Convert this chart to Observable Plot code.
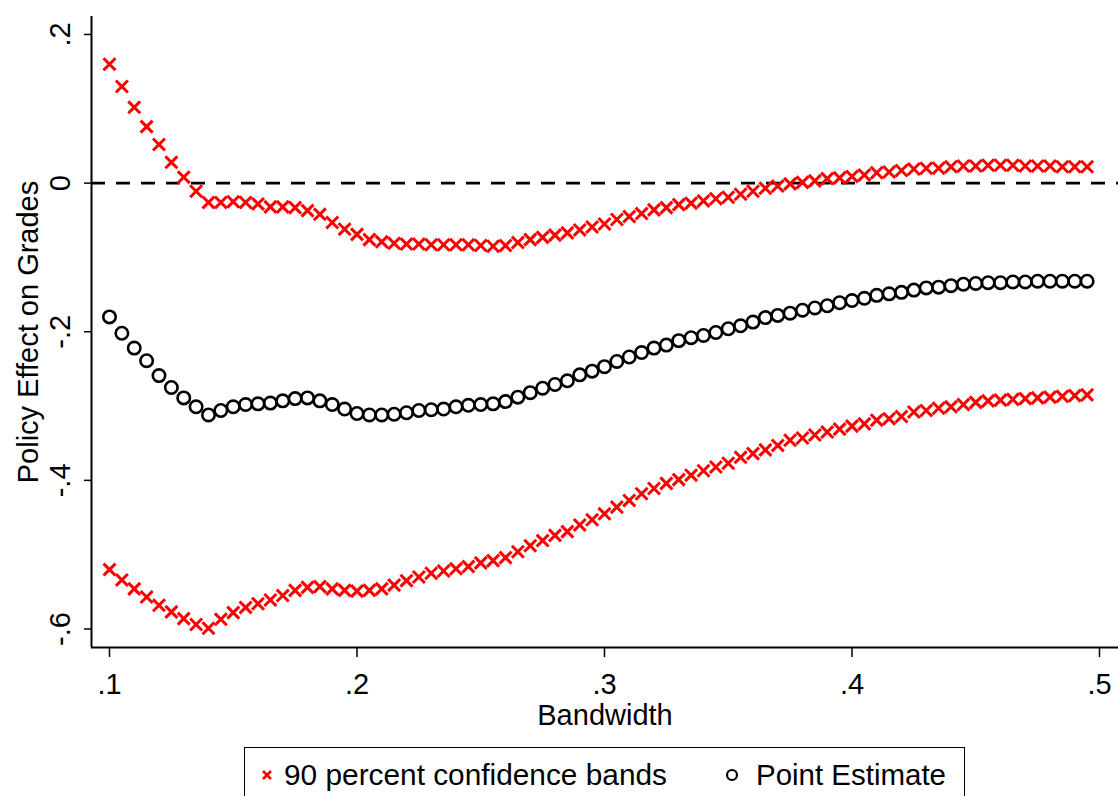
<!DOCTYPE html>
<html><head><meta charset="utf-8">
<script src="https://cdn.jsdelivr.net/npm/d3@7"></script>
<script src="https://cdn.jsdelivr.net/npm/@observablehq/plot@0.6"></script>
<style>
html,body{margin:0;padding:0;background:#fff;overflow:hidden;}
#wrap{position:relative;width:1118px;height:796px;font-family:"Liberation Sans",Arial,sans-serif;}
#chart{position:absolute;left:0;top:0;}
#legend{position:absolute;left:244px;top:747px;width:721px;height:80px;border:1.5px solid #000;box-sizing:border-box;background:#fff;}
#legend svg{position:absolute;left:0;top:0;}
</style></head>
<body><div id="wrap"><div id="chart"></div><div id="legend"></div></div>
<script>
const bandwidth = [0.100,0.105,0.110,0.115,0.120,0.125,0.130,0.135,0.140,0.145,
0.150,0.155,0.160,0.165,0.170,0.175,0.180,0.185,0.190,0.195,
0.200,0.205,0.210,0.215,0.220,0.225,0.230,0.235,0.240,0.245,
0.250,0.255,0.260,0.265,0.270,0.275,0.280,0.285,0.290,0.295,
0.300,0.305,0.310,0.315,0.320,0.325,0.330,0.335,0.340,0.345,
0.350,0.355,0.360,0.365,0.370,0.375,0.380,0.385,0.390,0.395,
0.400,0.405,0.410,0.415,0.420,0.425,0.430,0.435,0.440,0.445,
0.450,0.455,0.460,0.465,0.470,0.475,0.480,0.485,0.490,0.495];
const upperBand = [0.160,0.130,0.102,0.076,0.052,0.028,0.008,-0.011,-0.026,-0.026,
-0.025,-0.026,-0.028,-0.032,-0.032,-0.033,-0.037,-0.042,-0.053,-0.062,
-0.069,-0.076,-0.079,-0.081,-0.082,-0.082,-0.083,-0.083,-0.083,-0.083,
-0.084,-0.085,-0.084,-0.080,-0.076,-0.073,-0.070,-0.067,-0.063,-0.059,
-0.055,-0.049,-0.045,-0.041,-0.036,-0.033,-0.029,-0.027,-0.024,-0.021,
-0.019,-0.015,-0.011,-0.007,-0.004,-0.001,0.001,0.003,0.006,0.007,
0.009,0.011,0.014,0.015,0.017,0.019,0.020,0.020,0.022,0.023,
0.023,0.024,0.024,0.024,0.023,0.023,0.023,0.022,0.022,0.022];
const pointEstimate = [-0.180,-0.202,-0.222,-0.239,-0.259,-0.275,-0.289,-0.301,-0.312,-0.306,
-0.301,-0.298,-0.297,-0.296,-0.293,-0.290,-0.289,-0.293,-0.298,-0.304,
-0.310,-0.312,-0.312,-0.311,-0.309,-0.306,-0.305,-0.304,-0.301,-0.299,
-0.298,-0.297,-0.294,-0.288,-0.282,-0.276,-0.271,-0.266,-0.258,-0.253,
-0.247,-0.240,-0.234,-0.228,-0.222,-0.218,-0.212,-0.208,-0.205,-0.201,
-0.196,-0.192,-0.187,-0.181,-0.178,-0.175,-0.171,-0.168,-0.165,-0.161,
-0.158,-0.155,-0.151,-0.149,-0.147,-0.144,-0.141,-0.140,-0.138,-0.136,
-0.135,-0.134,-0.134,-0.133,-0.133,-0.132,-0.132,-0.132,-0.132,-0.132];
const lowerBand = [-0.520,-0.534,-0.546,-0.557,-0.568,-0.577,-0.586,-0.594,-0.599,-0.587,
-0.578,-0.571,-0.566,-0.561,-0.555,-0.548,-0.544,-0.543,-0.546,-0.548,
-0.549,-0.548,-0.546,-0.541,-0.535,-0.530,-0.525,-0.522,-0.519,-0.516,
-0.511,-0.508,-0.504,-0.496,-0.488,-0.481,-0.474,-0.469,-0.460,-0.453,
-0.445,-0.436,-0.427,-0.418,-0.411,-0.404,-0.399,-0.393,-0.387,-0.382,
-0.377,-0.369,-0.364,-0.359,-0.353,-0.346,-0.343,-0.339,-0.335,-0.331,
-0.327,-0.324,-0.319,-0.317,-0.314,-0.308,-0.306,-0.303,-0.301,-0.298,
-0.295,-0.293,-0.292,-0.291,-0.290,-0.289,-0.288,-0.287,-0.286,-0.285];
const xTicks = [0.1,0.2,0.3,0.4,0.5];
const xTickLabels = [".1",".2",".3",".4",".5"];
const yTicks = [0.2,0,-0.2,-0.4,-0.6];
const yTickLabels = [".2","0","-.2","-.4","-.6"];
const xTitle = "Bandwidth";
const yTitle = "Policy Effect on Grades";
const legendLabels = ["90 percent confidence bands","Point Estimate"];

const bandRows = bandwidth.flatMap((b,i)=>[{b, v: upperBand[i]}, {b, v: lowerBand[i]}]);
const estRows = bandwidth.map((b,i)=>({b, v: pointEstimate[i]}));

const W = 1118, H = 742, mL = 91, mR = 0, mT = 16, mB = 95;
const xDom = [0.09273, 0.50768], yDom = [-0.6249, 0.2242];
const xPerPx = (xDom[1]-xDom[0])/(W-mL-mR);
const yPerPx = (yDom[1]-yDom[0])/(H-mT-mB);
const font = "'Liberation Sans', Arial, sans-serif";
const FS = 29;

const chart = Plot.plot({
  width: W, height: H, marginLeft: mL, marginRight: mR, marginTop: mT, marginBottom: mB,
  x: {domain: xDom, axis: null},
  y: {domain: yDom, axis: null},
  style: {fontFamily: font, fontSize: FS + "px", background: "white", color: "black", overflow: "visible"},
  marks: [
    Plot.ruleY([0], {stroke: "black", strokeWidth: 2.8, strokeDasharray: "14,11"}),
    Plot.ruleX([xDom[0]], {stroke: "black", strokeWidth: 2}),
    Plot.ruleY([yDom[0]], {stroke: "black", strokeWidth: 2, x1: xDom[0], x2: xDom[1]}),
    Plot.ruleY(yTicks, {y: d => d, x1: xDom[0] - 7*xPerPx, x2: xDom[0], stroke: "black", strokeWidth: 1.5}),
    Plot.ruleX(xTicks, {x: d => d, y1: yDom[0], y2: yDom[0] - 10*yPerPx, stroke: "black", strokeWidth: 1.5}),
    Plot.text(yTicks, {y: d => d, text: (d,i) => yTickLabels[i], frameAnchor: "left", dx: -31, rotate: -90, textAnchor: "middle", lineAnchor: "middle", fontSize: FS, fill: "black"}),
    Plot.text(xTicks, {x: d => d, text: (d,i) => xTickLabels[i], frameAnchor: "bottom", dy: 37, textAnchor: "middle", lineAnchor: "middle", fontSize: FS, fill: "black"}),
    Plot.text([xTitle], {frameAnchor: "bottom", dy: 68, textAnchor: "middle", lineAnchor: "middle", fontSize: FS, fill: "black"}),
    Plot.text([yTitle], {frameAnchor: "left", dx: -63, rotate: -90, textAnchor: "middle", lineAnchor: "middle", fontSize: FS, fill: "black"}),
    Plot.dot(bandRows, {x: "b", y: "v", symbol: "times", r: 5.5, stroke: "#ff0000", strokeWidth: 3}),
    Plot.dot(estRows, {x: "b", y: "v", symbol: "circle", r: 6.2, stroke: "black", strokeWidth: 2.6, fill: "none"})
  ]
});
document.getElementById("chart").appendChild(chart);

// legend
const ns = "http://www.w3.org/2000/svg";
const lsvg = document.createElementNS(ns, "svg");
lsvg.setAttribute("width", 721); lsvg.setAttribute("height", 80);
const ff = font.replace(/'/g, "");
lsvg.innerHTML =
  `<path d="M18,23L26,31M26,23L18,31" stroke="#ff0000" stroke-width="2.6"/>` +
  `<text x="39" y="37" font-family="${ff}" font-size="${FS}" textLength="383" lengthAdjust="spacingAndGlyphs" fill="black">${legendLabels[0]}</text>` +
  `<circle cx="487" cy="27" r="5" stroke="black" stroke-width="2.2" fill="none"/>` +
  `<text x="511" y="37" font-family="${ff}" font-size="${FS}" textLength="190" lengthAdjust="spacingAndGlyphs" fill="black">${legendLabels[1]}</text>`;
document.getElementById("legend").appendChild(lsvg);
</script>
</body></html>
